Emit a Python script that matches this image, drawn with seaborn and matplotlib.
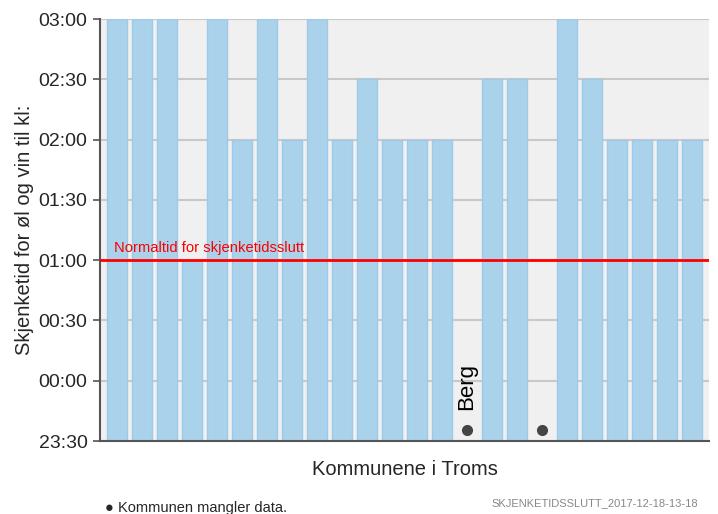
import matplotlib
matplotlib.use("Agg")
import matplotlib.pyplot as plt
import seaborn as sns
import numpy as np
import pandas as pd

# Kommunene i Troms (2017), i kommunenummer-rekkefølge
kommuner = ["Tromsø", "Harstad", "Kvæfjord", "Skånland", "Ibestad", "Gratangen",
            "Lavangen", "Bardu", "Salangen", "Målselv", "Sørreisa", "Dyrøy",
            "Tranøy", "Torsken", "Berg", "Lenvik", "Balsfjord", "Karlsøy",
            "Lyngen", "Storfjord", "Kåfjord", "Skjervøy", "Nordreisa", "Kvænangen"]
# skjenketidsslutt for øl og vin (None = mangler data)
slutt = ["03:00", "03:00", "03:00", "01:00", "03:00", "02:00",
         "03:00", "02:00", "03:00", "02:00", "02:30", "02:00",
         "02:00", "02:00", None, "02:30", "02:30", None,
         "03:00", "02:30", "02:00", "02:00", "02:00", "02:00"]
y_ticks = ["23:30", "00:00", "00:30", "01:00", "01:30", "02:00", "02:30", "03:00"]
normaltid = "01:00"
merket = "Berg"


def timer(s):
    # timer etter 23:30
    if s is None:
        return np.nan
    h, m = map(int, s.split(":"))
    t = h + m / 60
    if t >= 12:
        t -= 24
    return t + 0.5


df = pd.DataFrame({"kommune": kommuner, "timer": [timer(s) for s in slutt]})

sns.set_style("white")
plt.rcParams["font.family"] = ["Liberation Sans", "DejaVu Sans"]

fig = plt.figure(figsize=(7.18, 5.14), dpi=100)
ax = fig.add_axes([100 / 718, 1 - 441 / 514, 609 / 718, 422 / 514])
ax.set_facecolor("#f0f0f0")

yt = [timer(s) for s in y_ticks]
for y in yt:
    ax.axhline(y, color="#c8c8c8", lw=1.5, zorder=0)

sns.barplot(data=df, x="kommune", y="timer", order=kommuner, color="#abd2eb",
            edgecolor="#9ccae7", linewidth=1, width=0.8, errorbar=None,
            saturation=1, ax=ax, zorder=2)

mangler = [i for i, v in enumerate(df["timer"]) if np.isnan(v)]
ax.plot(mangler, [0.092] * len(mangler), "o", color="#444444", ms=7, zorder=3)
ax.text(kommuner.index(merket), 0.255, merket, rotation=90, ha="center",
        va="bottom", fontsize=16, color="black", zorder=4)

ax.axhline(timer(normaltid), color="red", lw=2, zorder=3)
ax.text(-0.13, timer(normaltid) + 0.04, "Normaltid for skjenketidsslutt",
        color="red", fontsize=10.6, ha="left", va="bottom", zorder=4)

ax.set_xlim(-0.67, 23.69)
ax.set_ylim(yt[0], yt[-1])
ax.set_yticks(yt)
ax.set_yticklabels(y_ticks, fontsize=14)
ax.set_xticks([])
ax.tick_params(axis="y", length=5, width=1.2, color="#555555", pad=4, left=True)

for side in ["top", "right"]:
    ax.spines[side].set_visible(False)
for side in ["left", "bottom"]:
    ax.spines[side].set_color("#555555")
    ax.spines[side].set_linewidth(1.5)

ax.set_ylabel("Skjenketid for øl og vin til kl:", fontsize=14.5, labelpad=3)
ax.set_xlabel("Kommunene i Troms", fontsize=14.5, labelpad=14)

fig.text(105 / 718, 1 - 508 / 514, "● Kommunen mangler data.", fontsize=10.5,
         ha="left", va="center")
fig.text(698 / 718, 1 - 503 / 514, "SKJENKETIDSSLUTT_2017-12-18-13-18",
         fontsize=8, color="#888888", ha="right", va="center")

fig.savefig("out.png", dpi=100)
